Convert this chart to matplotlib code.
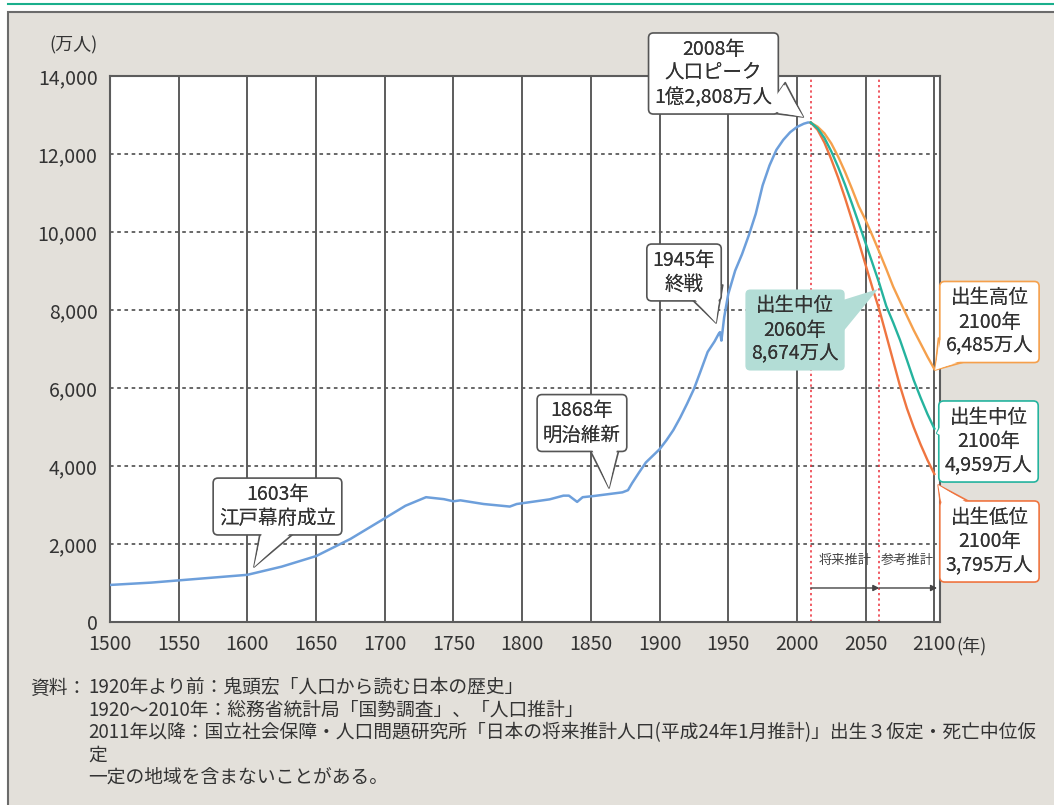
import matplotlib
matplotlib.use("Agg")
import matplotlib.pyplot as plt
from matplotlib.patches import Rectangle
from matplotlib.lines import Line2D

plt.rcParams["font.family"] = ["Noto Sans CJK JP", "DejaVu Sans"]

# ==========================================
# DATA (万人)
# ==========================================

hist_years = [1500, 1530, 1600, 1625, 1650, 1675, 1700, 1715, 1730, 1743,
              1750, 1755, 1772, 1791, 1796, 1820, 1830, 1834, 1840, 1844,
              1852, 1873, 1877, 1880, 1885, 1890, 1895, 1900, 1905, 1910,
              1915, 1920, 1925, 1930, 1935, 1940, 1943, 1944, 1945, 1947,
              1950, 1955, 1960, 1965, 1970, 1975, 1980, 1985, 1990, 1995,
              2000, 2005, 2008, 2010]
hist_pop = [950, 1010, 1210, 1420, 1690, 2130, 2660, 2980, 3200, 3150,
            3095, 3120, 3025, 2960, 3025, 3145, 3240, 3240, 3080, 3200,
            3230, 3325, 3380, 3560, 3830, 4090, 4260, 4430, 4660, 4920,
            5240, 5596, 5974, 6445, 6925, 7193, 7388, 7433, 7215, 7810,
            8411, 9008, 9430, 9921, 10467, 11194, 11706, 12105, 12361, 12557,
            12693, 12777, 12808, 12806]

proj_years = [2010, 2015, 2020, 2025, 2030, 2035, 2040, 2045, 2050, 2055,
              2060, 2065, 2070, 2075, 2080, 2085, 2090, 2095, 2100]
high_pop = [12806, 12700, 12530, 12270, 11930, 11540, 11110, 10660, 10300,
            9900, 9480, 9050, 8600, 8220, 7850, 7480, 7140, 6800, 6485]
mid_pop = [12806, 12660, 12410, 12066, 11662, 11212, 10728, 10221, 9708,
           9193, 8674, 8100, 7680, 7230, 6720, 6200, 5750, 5330, 4959]
low_pop = [12806, 12620, 12290, 11860, 11390, 10870, 10310, 9740, 9150,
           8560, 7997, 7350, 6700, 6050, 5480, 4990, 4550, 4150, 3795]

x_ticks = list(range(1500, 2101, 50))
y_ticks = list(range(0, 14001, 2000))

notes = [
    "1920年より前：鬼頭宏「人口から読む日本の歴史」",
    "1920～2010年：総務省統計局「国勢調査」、「人口推計」",
    "2011年以降：国立社会保障・人口問題研究所「日本の将来推計人口(平成24年1月推計)」出生３仮定・死亡中位仮",
    "定",
    "一定の地域を含まないことがある。",
]

# colours
C_HIST = "#6d9fdb"
C_HIGH = "#f5a04c"
C_MID = "#25b39e"
C_LOW = "#ef7540"
C_TEXT = "#333333"
C_GRID = "#5c5c5c"

W, H = 1054, 805


def fx(px):
    return px / W


def fy(py):
    return 1 - py / H


# ==========================================
# FIGURE
# ==========================================

fig = plt.figure(figsize=(W / 100, H / 100), dpi=100)
fig.patch.set_facecolor("white")

fig.add_artist(Rectangle((fx(8), -0.02), 1.0, fy(12) + 0.02,
                         transform=fig.transFigure, fc="#e3e0da",
                         ec="#6b6b6b", lw=1.5, zorder=0))
fig.add_artist(Line2D([fx(8), 1], [fy(4), fy(4)],
                      transform=fig.transFigure, color="#1aaf8c", lw=1.5))

ax = fig.add_axes([fx(110), fy(622), fx(940) - fx(110), fy(76) - fy(622)])
ax.set_facecolor("white")
ax.set_xlim(1500, 2104.1)
ax.set_ylim(0, 14000)

for x in x_ticks:
    ax.axvline(x, color=C_GRID, lw=1.4, zorder=1)
for y in y_ticks[1:-1]:
    ax.axhline(y, color=C_GRID, lw=1.3, ls=(0, (2, 2)), zorder=1)

for x in [2010, 2060]:
    ax.axvline(x, color="#ec2d38", lw=1.1, ls=(0, (1.5, 2)), zorder=1.5)

for s in ax.spines.values():
    s.set_color(C_GRID)
    s.set_linewidth(1.5)

ax.set_xticks(x_ticks)
ax.set_xticklabels([str(v) for v in x_ticks])
ax.set_yticks(y_ticks)
ax.set_yticklabels([f"{v:,}" for v in y_ticks])
ax.tick_params(length=0, pad=9, labelsize=14, labelcolor=C_TEXT)

# lines
ax.plot(hist_years, hist_pop, color=C_HIST, lw=1.8, zorder=3)
ax.plot(proj_years, high_pop, color=C_HIGH, lw=1.7, zorder=3)
ax.plot(proj_years, low_pop, color=C_LOW, lw=1.7, zorder=3)
ax.plot(proj_years, mid_pop, color=C_MID, lw=1.7, zorder=3.1)

# projection period arrows
for a, b in [(2010, 2060), (2060, 2102)]:
    ax.annotate("", xy=(b, 872), xytext=(a, 872),
                arrowprops=dict(arrowstyle="-|>", color="#444444", lw=1.0,
                                mutation_scale=9, shrinkA=0, shrinkB=0),
                zorder=4)
ax.text(2035, 1590, "将来推計", ha="center", va="center", fontsize=9.5,
        color="#444444", zorder=4)
ax.text(2080.5, 1590, "参考推計", ha="center", va="center", fontsize=9.5,
        color="#444444", zorder=4)


# ==========================================
# CALLOUTS
# ==========================================

def callout(text, center, base, tip, fc="white", ec="#555555", tw=1.3):
    style = f"wedge,tail_width={tw},shrink_factor=0.5"
    if ec != "none":
        ax.annotate("", xy=tip, xytext=base, annotation_clip=False,
                    arrowprops=dict(arrowstyle=style, fc=fc, ec=ec, lw=1.2,
                                    mutation_scale=20, shrinkA=0, shrinkB=0,
                                    patchA=None),
                    zorder=6)
    ax.text(center[0], center[1], text, ha="center", va="center",
            fontsize=14, color=C_TEXT, linespacing=1.2, zorder=7,
            bbox=dict(boxstyle="round,pad=0.3,rounding_size=0.25",
                      fc=fc, ec=ec, lw=1.2))
    ax.annotate("", xy=tip, xytext=base, annotation_clip=False,
                arrowprops=dict(arrowstyle=f"wedge,tail_width={tw * 0.85},shrink_factor=0.5",
                                fc=fc, ec="none", lw=0, mutation_scale=20,
                                shrinkA=0, shrinkB=0, patchA=None),
                zorder=8)
    ax.text(center[0], center[1], text, ha="center", va="center",
            fontsize=14, color=C_TEXT, linespacing=1.2, zorder=9)


callout("1603年\n江戸幕府成立", (1621.9, 2961), (1623, 2520), (1604.8, 1410))
callout("1868年\n明治維新", (1843.5, 5102), (1859.5, 4660), (1863.2, 3436))
callout("1945年\n終戦", (1917.8, 8962), (1933.5, 8500), (1941.1, 7667))
callout("2008年\n人口ピーク\n1億2,808万人", (1939.2, 14064), (1984, 13450),
        (2004.6, 12949))
callout("出生中位\n2060年\n8,674万人", (1998.6, 7487), (2028, 7800),
        (2059, 8538), fc="#b3ddd6", ec="none")
callout("出生高位\n2100年\n6,485万人", (2140.1, 7692), (2113, 6980),
        (2100.5, 6461), ec=C_HIGH)
callout("出生中位\n2100年\n4,959万人", (2139.4, 4628), (2113, 4960),
        (2101.7, 4838), ec=C_MID)
callout("出生低位\n2100年\n3,795万人", (2140.1, 2064), (2117, 2780),
        (2102.8, 3513), ec=C_LOW)

# ==========================================
# TEXTS
# ==========================================

fig.text(fx(98), fy(45), "(万人)", ha="right", va="center", fontsize=13,
         color=C_TEXT)
fig.text(fx(956), fy(646), "(年)", ha="left", va="center", fontsize=13,
         color=C_TEXT)

fig.text(fx(30), fy(688), "資料：", ha="left", va="center", fontsize=13.5,
         color=C_TEXT)
for i, line in enumerate(notes):
    fig.text(fx(88), fy(688 + 22.3 * i), line, ha="left", va="center",
             fontsize=13.5, color=C_TEXT)

fig.savefig("out.png", dpi=100, facecolor=fig.get_facecolor())
plt.close(fig)
